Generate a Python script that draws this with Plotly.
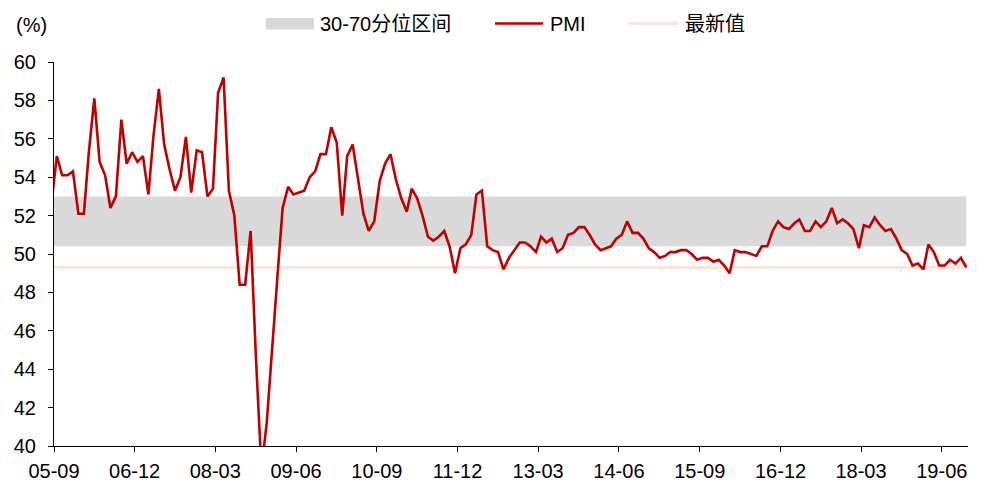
import pandas as pd
import plotly.graph_objects as go

# ---- data ----
start_month = "2005-08-01"
pmi = [
    52.6, 55.1, 54.1, 54.1, 54.3,                                      # 2005 Aug-Dec
    52.1, 52.1, 55.3, 58.1, 54.8, 54.1, 52.4, 53.0, 57.0, 54.7, 55.3, 54.8,  # 2006
    55.1, 53.1, 56.1, 58.6, 55.7, 54.4, 53.3, 54.0, 56.1, 53.2, 55.4, 55.3,  # 2007
    53.0, 53.4, 58.4, 59.2, 53.3, 52.0, 48.4, 48.4, 51.2, 44.6, 38.8, 41.2,  # 2008
    45.3, 49.0, 52.4, 53.5, 53.1, 53.2, 53.3, 54.0, 54.3, 55.2, 55.2, 56.6,  # 2009
    55.8, 52.0, 55.1, 55.7, 53.9, 52.1, 51.2, 51.7, 53.8, 54.7, 55.2, 53.9,  # 2010
    52.9, 52.2, 53.4, 52.9, 52.0, 50.9, 50.7, 50.9, 51.2, 50.4, 49.0, 50.3,  # 2011
    50.5, 51.0, 53.1, 53.3, 50.4, 50.2, 50.1, 49.2, 49.8, 50.2, 50.6, 50.6,  # 2012
    50.4, 50.1, 50.9, 50.6, 50.8, 50.1, 50.3, 51.0, 51.1, 51.4, 51.4, 51.0,  # 2013
    50.5, 50.2, 50.3, 50.4, 50.8, 51.0, 51.7, 51.1, 51.1, 50.8, 50.3, 50.1,  # 2014
    49.8, 49.9, 50.1, 50.1, 50.2, 50.2, 50.0, 49.7, 49.8, 49.8, 49.6, 49.7,  # 2015
    49.4, 49.0, 50.2, 50.1, 50.1, 50.0, 49.9, 50.4, 50.4, 51.2, 51.7, 51.4,  # 2016
    51.3, 51.6, 51.8, 51.2, 51.2, 51.7, 51.4, 51.7, 52.4, 51.6, 51.8, 51.6,  # 2017
    51.3, 50.3, 51.5, 51.4, 51.9, 51.5, 51.2, 51.3, 50.8, 50.2, 50.0, 49.4,  # 2018
    49.5, 49.2, 50.5, 50.1, 49.4, 49.4, 49.7, 49.5, 49.8, 49.3,              # 2019 Jan-Oct
]
band_low = 50.4   # 30th percentile
band_high = 53.0  # 70th percentile
tick_labels = ["05-09", "06-12", "08-03", "09-06", "10-09", "11-12",
               "13-03", "14-06", "15-09", "16-12", "18-03", "19-06"]
y_ticks = [40, 42, 44, 46, 48, 50, 52, 54, 56, 58, 60]
legend_names = ["30-70分位区间", "PMI", "最新值"]

# ---- styling / layout ----
W, H = 989, 481
ML, MR, MT, MB = 54, 21, 62, 35
PW, PH = W - ML - MR, H - MT - MB
C_BAND, C_PMI, C_LAST = "#D9D9D9", "#C00000", "#FBE5D6"
font_main = "Liberation Sans, Arial, Noto Sans CJK SC, sans-serif"
FS = 20


def px_x(px):
    return (px - ML) / PW


def px_y(py):
    return (H - MB - py) / PH


months = pd.date_range(start_month, periods=len(pmi), freq="MS")
x = months + pd.Timedelta(days=16)
latest = pmi[-1]
tickvals = [pd.Timestamp("20" + t + "-01") for t in tick_labels]

fig = go.Figure()
fig.add_trace(go.Scatter(x=x, y=[band_low] * len(x), mode="lines",
                         line=dict(width=0), hoverinfo="skip", showlegend=False))
fig.add_trace(go.Scatter(x=x, y=[band_high] * len(x), mode="lines",
                         line=dict(width=0), fill="tonexty", fillcolor=C_BAND,
                         name=legend_names[0], showlegend=False))
fig.add_trace(go.Scatter(x=x, y=[latest] * len(x), mode="lines",
                         line=dict(color=C_LAST, width=3), name=legend_names[2],
                         showlegend=False))
fig.add_trace(go.Scatter(x=x, y=pmi, mode="lines",
                         line=dict(color=C_PMI, width=2.6), name=legend_names[1],
                         showlegend=False))

# ---- legend drawn at the top (symbols + real text) ----
shapes = [
    dict(type="rect", xref="paper", yref="paper",
         x0=px_x(266), x1=px_x(314), y0=px_y(29.5), y1=px_y(18),
         fillcolor=C_BAND, line=dict(width=0), layer="above"),
    dict(type="line", xref="paper", yref="paper",
         x0=px_x(495), x1=px_x(543), y0=px_y(23.5), y1=px_y(23.5),
         line=dict(color=C_PMI, width=2.5)),
    dict(type="line", xref="paper", yref="paper",
         x0=px_x(628), x1=px_x(678), y0=px_y(23.5), y1=px_y(23.5),
         line=dict(color=C_LAST, width=3)),
]
annotations = [
    dict(text=legend_names[0], x=px_x(318), y=px_y(24)),
    dict(text=legend_names[1], x=px_x(548), y=px_y(24)),
    dict(text=legend_names[2], x=px_x(683), y=px_y(24)),
]
for a in annotations:
    a.update(xref="paper", yref="paper", xanchor="left", yanchor="middle",
             showarrow=False, font=dict(family=font_main, size=FS, color="#000000"))
annotations.append(dict(text="(%)", xref="paper", yref="paper", x=px_x(31), y=px_y(24.5),
                        xanchor="center", yanchor="middle", showarrow=False,
                        font=dict(family=font_main, size=FS, color="#000000")))

fig.update_layout(
    width=W, height=H,
    margin=dict(l=ML, r=MR, t=MT, b=MB, pad=0, autoexpand=False),
    paper_bgcolor="white", plot_bgcolor="white",
    font=dict(family=font_main, size=FS, color="#000000"),
    showlegend=False,
    shapes=shapes,
    annotations=annotations,
)
fig.update_xaxes(
    type="date", range=["2005-09-01", "2019-10-27"],
    tickvals=tickvals, ticktext=tick_labels,
    showgrid=False, zeroline=False, automargin=False,
    showline=True, linecolor="#000000", linewidth=1,
    ticks="outside", ticklen=5, tickcolor="#000000",
    tickfont=dict(family=font_main, size=FS),
    ticklabelstandoff=2,
)
fig.update_yaxes(
    range=[40, 60], tickvals=y_ticks,
    showgrid=False, zeroline=False, automargin=False,
    showline=True, linecolor="#000000", linewidth=1,
    ticks="outside", ticklen=5, tickcolor="#000000",
    tickfont=dict(family=font_main, size=FS),
    ticklabelstandoff=8,
)

fig.write_html("out.html")
